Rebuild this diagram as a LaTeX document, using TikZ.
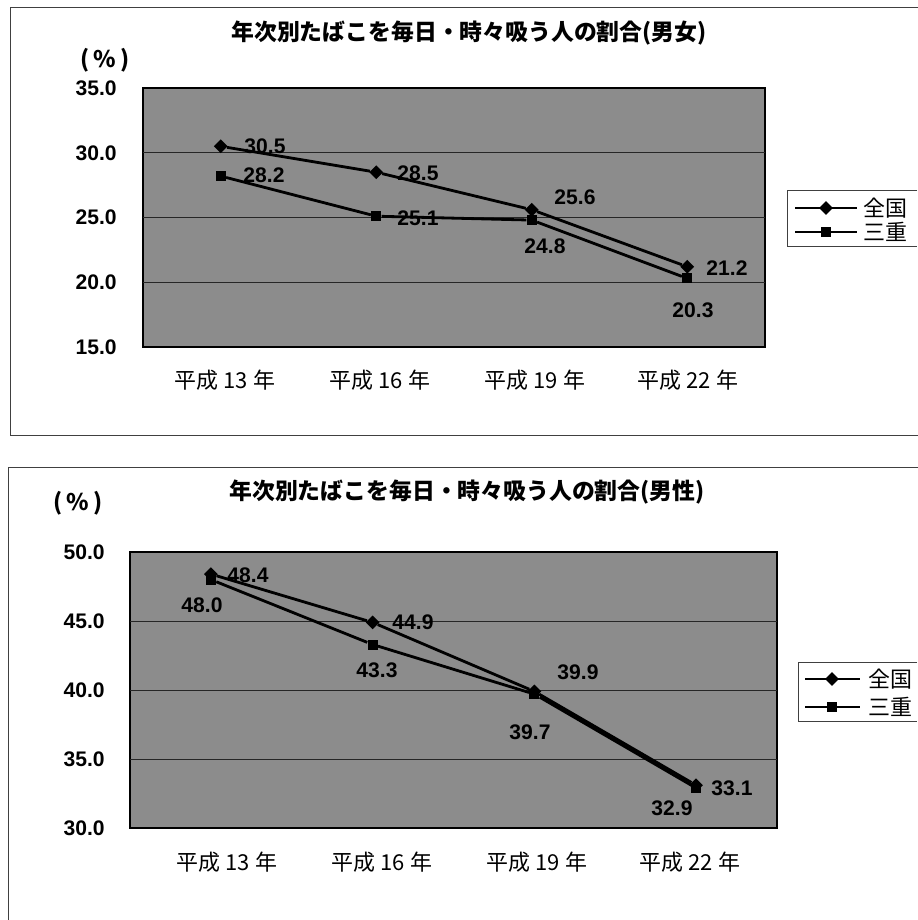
\documentclass[tikz,border=0pt]{standalone}
\usepackage{fontspec}
\setmainfont{Liberation Sans}
\newfontfamily\jpfont{Noto Sans CJK JP}
\usetikzlibrary{shapes.geometric}

\begin{document}
\begin{tikzpicture}[x=0.02cm,y=-0.02cm,
    frame/.style={black!75,line width=0.5pt},
    plotbg/.style={fill=black!45,draw=black,line width=1.1pt},
    gridline/.style={black!85,line width=0.5pt},
    serie/.style={line width=1.6pt},
    legline/.style={line width=1pt},
    zmark/.style={diamond,fill=black,inner sep=0pt,minimum size=0.28cm},
    mmark/.style={rectangle,fill=black,inner sep=0pt,minimum size=0.2cm},
    val/.style={font=\fontsize{12}{14}\selectfont\bfseries,inner sep=1pt},
    ticklbl/.style={anchor=east,font=\fontsize{12}{14}\selectfont\bfseries,inner sep=0pt},
    catlbl/.style={font=\jpfont\fontsize{12.5}{14}\selectfont,inner sep=0pt},
    ttl/.style={font=\jpfont\bfseries\fontsize{13}{15}\selectfont,inner sep=0pt},
    legtxt/.style={anchor=west,font=\jpfont\fontsize{12.5}{14}\selectfont,inner sep=0pt}]
\useasboundingbox (0,0) rectangle (918,920);

% ---- chart 1 (men and women) ----
\draw[frame] (918,7) -- (10,7) -- (10,435) -- (918,435);
\node[ttl] (title1) at (469,33) {年次別たばこを毎日・時々吸う人の割合(男女)};
\node[ttl] (pct1) at (105,60) {(\,\%\,)};
\draw[plotbg] (143,88) rectangle (765,347);
\draw[gridline] (143,152.75) -- (765,152.75);
\draw[gridline] (143,217.5) -- (765,217.5);
\draw[gridline] (143,282.25) -- (765,282.25);
\node[ticklbl] (t35) at (117,88) {35.0};
\node[ticklbl] (t30) at (117,153) {30.0};
\node[ticklbl] (t25) at (117,217) {25.0};
\node[ticklbl] (t20) at (117,282) {20.0};
\node[ticklbl] (t15) at (117,347) {15.0};
\node[catlbl] (h13a) at (225,380) {平成 13 年};
\node[catlbl] (h16a) at (380,380) {平成 16 年};
\node[catlbl] (h19a) at (535,380) {平成 19 年};
\node[catlbl] (h22a) at (688,380) {平成 22 年};
% zenkoku
\node[zmark] (a1) at (220.75,146.3) {};
\node[zmark] (a2) at (376.25,172.2) {};
\node[zmark] (a3) at (531.75,209.7) {};
\node[zmark] (a4) at (687.25,266.7) {};
% mie
\node[mmark] (b1) at (220.75,176.1) {};
\node[mmark] (b2) at (376.25,216.2) {};
\node[mmark] (b3) at (531.75,220.1) {};
\node[mmark] (b4) at (687.25,278.4) {};
\draw[serie] (a1) -- (a2) -- (a3) -- (a4);
\draw[serie] (b1) -- (b2) -- (b3) -- (b4);
\node[val] (va1) at (265,146) {30.5};
\node[val] (va2) at (418,173) {28.5};
\node[val] (va3) at (575,197) {25.6};
\node[val] (va4) at (727,268) {21.2};
\node[val] (vb1) at (264,175) {28.2};
\node[val] (vb2) at (418,218) {25.1};
\node[val] (vb3) at (545,246) {24.8};
\node[val] (vb4) at (693,310) {20.3};
% legend
\draw[frame] (917,190) -- (787,190) -- (787,246) -- (917,246);
\coordinate (la1) at (795,208); \coordinate (la2) at (857,208);
\coordinate (lb1) at (795,232); \coordinate (lb2) at (857,232);
\draw[legline] (la1) -- (la2);
\draw[legline] (lb1) -- (lb2);
\node[zmark] (lam) at (826,208) {};
\node[mmark] (lbm) at (826,232) {};
\node[legtxt] (lat) at (863,208) {全国};
\node[legtxt] (lbt) at (863,232) {三重};

% ---- chart 2 (men) ----
\draw[frame] (918,467) -- (8,467) -- (8,920);
\node[ttl] (title2) at (467,492) {年次別たばこを毎日・時々吸う人の割合(男性)};
\node[ttl] (pct2) at (78,503) {(\,\%\,)};
\draw[plotbg] (130,552) rectangle (777,828);
\draw[gridline] (130,621) -- (777,621);
\draw[gridline] (130,690) -- (777,690);
\draw[gridline] (130,759) -- (777,759);
\node[ticklbl] (s50) at (105,552) {50.0};
\node[ticklbl] (s45) at (105,621) {45.0};
\node[ticklbl] (s40) at (105,690) {40.0};
\node[ticklbl] (s35) at (105,759) {35.0};
\node[ticklbl] (s30) at (105,828) {30.0};
\node[catlbl] (h13b) at (227,862) {平成 13 年};
\node[catlbl] (h16b) at (382,862) {平成 16 年};
\node[catlbl] (h19b) at (537,862) {平成 19 年};
\node[catlbl] (h22b) at (690,862) {平成 22 年};
% zenkoku
\node[zmark] (c1) at (210.9,574.1) {};
\node[zmark] (c2) at (372.6,622.4) {};
\node[zmark] (c3) at (534.4,691.4) {};
\node[zmark] (c4) at (696.1,785.2) {};
% mie
\node[mmark] (d1) at (210.9,579.6) {};
\node[mmark] (d2) at (372.6,644.5) {};
\node[mmark] (d3) at (534.4,694.1) {};
\node[mmark] (d4) at (696.1,788.0) {};
\draw[serie] (c1) -- (c2) -- (c3) -- (c4);
\draw[serie] (d1) -- (d2) -- (d3) -- (d4);
\node[val] (vc1) at (248,575) {48.4};
\node[val] (vc2) at (413,622) {44.9};
\node[val] (vc3) at (578,672) {39.9};
\node[val] (vc4) at (732,788) {33.1};
\node[val] (vd1) at (202,605) {48.0};
\node[val] (vd2) at (377,670) {43.3};
\node[val] (vd3) at (530,732) {39.7};
\node[val] (vd4) at (672,808) {32.9};
% legend
\draw[frame] (917,662) -- (798,662) -- (798,721) -- (917,721);
\coordinate (lc1) at (805,679); \coordinate (lc2) at (860,679);
\coordinate (ld1) at (805,707); \coordinate (ld2) at (860,707);
\draw[legline] (lc1) -- (lc2);
\draw[legline] (ld1) -- (ld2);
\node[zmark] (lcm) at (832,679) {};
\node[mmark] (ldm) at (832,707) {};
\node[legtxt] (lct) at (868,679) {全国};
\node[legtxt] (ldt) at (868,707) {三重};
\end{tikzpicture}
\end{document}
